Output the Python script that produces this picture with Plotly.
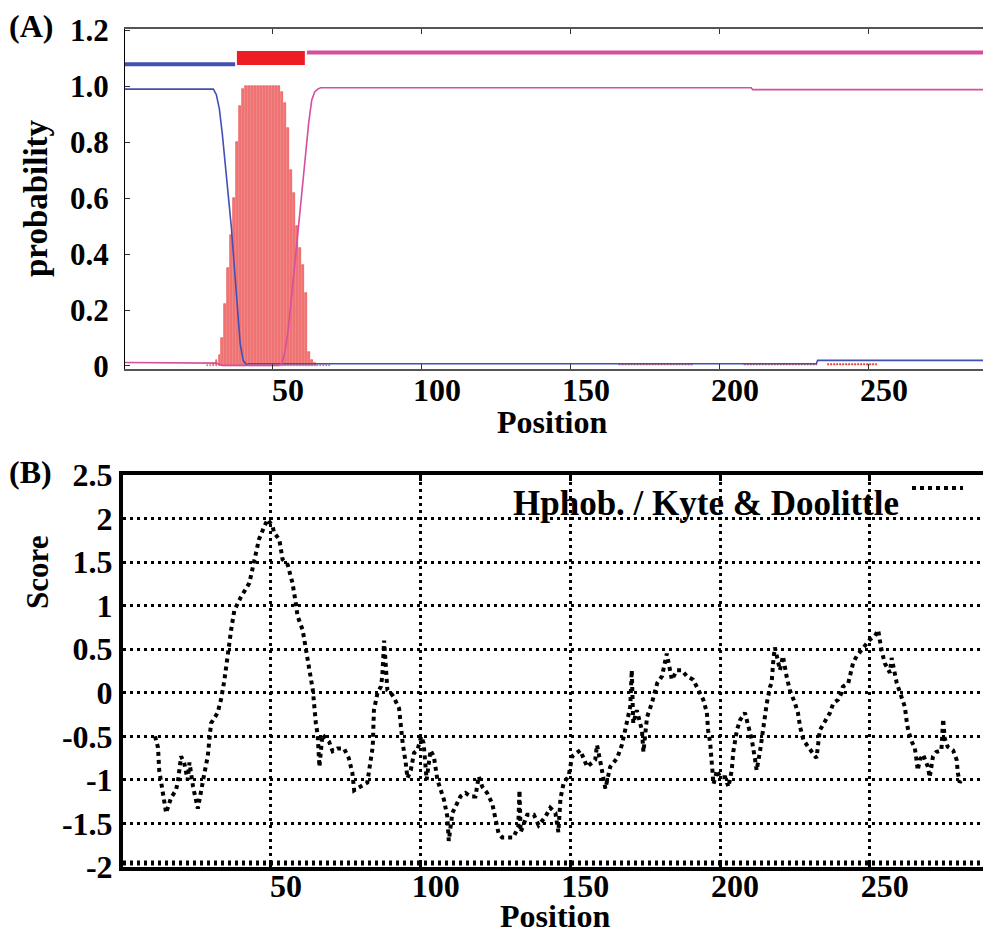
import plotly.graph_objects as go

W, H = 983, 933

# ---------------- Panel A data (TMHMM style posterior probabilities) ----------------
tm_pos = list(range(28, 70))
tm_prob = [0.005, 0.005, 0.01, 0.02, 0.04, 0.10, 0.22, 0.35, 0.47, 0.60, 0.80, 0.93, 0.99,
           1.0, 1.0, 1.0, 1.0, 1.0, 1.0, 1.0, 1.0, 1.0, 1.0, 1.0, 1.0,
           0.98, 0.94, 0.85, 0.70, 0.62, 0.50, 0.42, 0.36, 0.26, 0.05, 0.02, 0.01,
           0.005, 0.005, 0.005, 0.005, 0.005]

inside_pos = [0.34, 30, 31, 32, 33, 34, 35, 36, 37, 38, 39, 40, 41, 42, 232.4, 232.8, 288.3]
inside_prob = [0.99, 0.99, 0.97, 0.92, 0.83, 0.72, 0.61, 0.50, 0.36, 0.22, 0.08, 0.02, 0.005,
               0.008, 0.008, 0.02, 0.02]

outside_pos = [0.34, 30, 31, 32, 33, 52, 53, 54, 55, 56, 57, 58, 59, 60, 61, 62, 63, 64, 65, 66,
               210.5, 211, 288.3]
outside_prob = [0.012, 0.012, 0.01, 0.006, 0.002, 0.002, 0.008, 0.05, 0.12, 0.22, 0.33, 0.44,
                0.54, 0.64, 0.75, 0.87, 0.95, 0.98, 0.99, 0.995, 0.995, 0.988, 0.988]

# faint TM probability stretches near zero
low_start = [166, 208, 236]
low_end = [191, 232.6, 252.7]
low_val = [0.006, 0.006, 0.006]

# predicted topology bars on top
topo_kind = ["inside", "TM", "outside"]
topo_start = [0.34, 37.9, 61.4]
topo_end = [37.3, 60.7, 288.3]
topo_level = [1.079, 1.101, 1.121]

a_xticks = [50, 100, 150, 200, 250]
a_yticks = [0, 0.2, 0.4, 0.6, 0.8, 1.0, 1.2]
a_ytext = ["0", "0.2", "0.4", "0.6", "0.8", "1.0", "1.2"]

# ---------------- Panel B data (Kyte & Doolittle hydrophobicity) ----------------
kd_pos = [11.3, 12.3, 12.7, 13.9, 15, 16.7, 18.3, 19, 20, 21, 22.2, 22.8, 24, 25.6, 26.7, 27.8,
          28.9, 30, 32.2, 33.3, 34.4, 35.6, 36.7, 37.8, 40, 42.8, 44.4, 46, 47.8, 48.9, 50.6,
          51, 52.8, 53.9, 55.6, 57.2, 58.3, 58.9, 60.6, 61.7, 62.8, 64, 65, 65.6, 66.2, 67.2,
          69.4, 70.6, 72.2, 74.4, 76, 77.2, 77.8, 80, 82.2, 82.8, 84, 84.4, 85.6, 86.7, 87.2,
          87.8, 88.2, 88.9, 90, 91, 92.8, 93.3, 94, 95, 95.6, 96.7, 97.8, 98.9, 100.2, 101,
          102, 103.3, 104.4, 105.6, 106.7, 107.8, 108.9, 109.4, 110.6, 111.7, 113.3, 115,
          116.7, 118.3, 119.4, 120.6, 122.2, 123.9, 125, 126, 127.2, 131, 132.6, 133, 133.4,
          135.6, 137.8, 139.4, 141.7, 143.3, 145, 146, 146.7, 147.8, 149.4, 150.6, 153.3,
          155.6, 158.3, 158.9, 160, 161.7, 163.3, 165.6, 167.2, 168.9, 170, 170.5, 171, 172.2,
          173.9, 174.4, 175.6, 177.2, 178.3, 179, 180.6, 182.2, 183.9, 185.6, 187.2, 188.9,
          191, 192.8, 193.3, 194.4, 195.6, 196, 196.7, 197.2, 197.8, 199, 200, 201.7, 202.8,
          203.9, 204.4, 205.6, 206.7, 208.3, 209.4, 210.6, 211.7, 212.2, 213.3, 214.4, 215.6,
          216.7, 217.2, 217.8, 218.3, 220, 221, 222.2, 223.3, 225, 226, 226.7, 227.8, 229.4,
          231, 232.2, 233.3, 235, 236.7, 237.8, 239.4, 240.6, 241, 242.8, 244.4, 245.6, 247.2,
          248.9, 250, 251.7, 252.8, 253.9, 255, 256.7, 257.3, 259, 260, 261.7, 262.2, 262.8,
          264, 265, 265.6, 266, 266.7, 267.8, 269.4, 270, 271.1, 272.2, 273.9, 274.5, 275,
          276, 277.8, 279, 279.4, 280, 280.6]
kd_score = [-0.5, -0.63, -0.89, -1.15, -1.38, -1.2, -1.12, -1.0, -0.73, -0.8, -1.0, -0.8, -1.08,
            -1.33, -1.15, -0.92, -0.73, -0.35, -0.23, -0.08, 0.13, 0.49, 0.72, 0.95, 1.1, 1.26,
            1.53, 1.76, 1.91, 1.99, 1.91, 1.84, 1.76, 1.53, 1.47, 1.26, 1.03, 0.88, 0.72, 0.49,
            0.3, 0.03, -0.35, -0.48, -0.85, -0.48, -0.56, -0.67, -0.64, -0.64, -0.75, -0.92,
            -1.12, -1.08, -1.03, -0.89, -0.62, -0.2, 0.0, 0.07, 0.19, 0.6, 0.31, 0.03, 0.0,
            -0.05, -0.18, -0.35, -0.58, -0.8, -0.98, -0.89, -0.69, -0.66, -0.5, -0.58, -1.0,
            -0.66, -0.73, -1.0, -1.12, -1.23, -1.42, -1.7, -1.38, -1.31, -1.19, -1.15, -1.19,
            -1.19, -0.96, -1.08, -1.15, -1.27, -1.46, -1.61, -1.66, -1.66, -1.54, -1.12, -1.6,
            -1.4, -1.4, -1.52, -1.42, -1.32, -1.38, -1.6, -1.21, -1.03, -0.96, -0.73, -0.66,
            -0.85, -0.77, -0.6, -0.79, -1.1, -0.85, -0.75, -0.6, -0.35, -0.16, 0.26, -0.35,
            -0.2, -0.43, -0.68, -0.28, -0.12, 0.0, 0.11, 0.19, 0.45, 0.15, 0.26, 0.26, 0.19,
            0.15, 0.03, 0.0, -0.08, -0.23, -0.43, -0.58, -0.8, -1.05, -0.89, -0.97, -0.97,
            -1.08, -0.89, -0.68, -0.43, -0.31, -0.23, -0.37, -0.54, -0.77, -0.89, -0.68, -0.4,
            -0.12, 0.07, 0.11, 0.38, 0.52, 0.26, 0.42, 0.19, 0.03, -0.12, -0.23, -0.39, -0.54,
            -0.62, -0.69, -0.75, -0.43, -0.33, -0.23, -0.12, -0.08, 0.0, 0.07, 0.11, 0.34, 0.42,
            0.49, 0.57, 0.61, 0.65, 0.72, 0.49, 0.34, 0.23, 0.4, 0.11, 0.0, -0.16, -0.3, -0.43,
            -0.56, -0.63, -0.77, -0.89, -0.77, -0.71, -0.85, -0.97, -0.73, -0.68, -0.66, -0.3,
            -0.52, -0.62, -0.66, -0.77, -0.92, -1.03, -1.0]

b_xticks = [50, 100, 150, 200, 250]
b_yticks = [2.5, 2, 1.5, 1, 0.5, 0, -0.5, -1, -1.5, -2]
b_ytext = ["2.5", "2", "1.5", "1", "0.5", "0", "-0.5", "-1", "-1.5", "-2"]

legend_label = "Hphob. / Kyte & Doolittle"

# ---------------- styles ----------------
SERIF = "Liberation Serif"
BLUE = "#4150B4"
PINK = "#D4509E"
RED_BAR = "#F37A7A"
RED_EDGE = "#E64040"
RED_TOP = "#EE1D23"
DOT = "3px,4px"
KD_DOT = "4px,4px"


def bfont(size):
    return dict(family=SERIF, size=size, color="black", weight="bold")


def px(x):
    """window pixel x -> paper fraction"""
    return x / W


def py(y):
    """window pixel y -> paper fraction"""
    return 1 - y / H


fig = go.Figure()

# --- Panel A traces ---
fig.add_trace(go.Bar(x=tm_pos, y=tm_prob, width=0.56, xaxis="x", yaxis="y",
                     marker=dict(color=RED_BAR, line=dict(color=RED_EDGE, width=0.6)),
                     showlegend=False, hoverinfo="skip"))
for s, e, v in zip(low_start, low_end, low_val):
    fig.add_trace(go.Scatter(x=[s, e], y=[v, v], mode="lines", xaxis="x", yaxis="y",
                             line=dict(color=RED_EDGE, width=2, dash="2px,1px"),
                             showlegend=False, hoverinfo="skip"))
fig.add_trace(go.Scatter(x=inside_pos, y=inside_prob, mode="lines", xaxis="x", yaxis="y",
                         line=dict(color=BLUE, width=1.6), showlegend=False, hoverinfo="skip"))
fig.add_trace(go.Scatter(x=outside_pos, y=outside_prob, mode="lines", xaxis="x", yaxis="y",
                         line=dict(color=PINK, width=1.6), showlegend=False, hoverinfo="skip"))

shapes = []
for kind, s, e, lvl in zip(topo_kind, topo_start, topo_end, topo_level):
    if kind == "TM":
        shapes.append(dict(type="rect", xref="x", yref="y", x0=s, x1=e,
                           y0=lvl - 0.025, y1=lvl + 0.025,
                           fillcolor=RED_TOP, line=dict(width=0), layer="above"))
    else:
        col = BLUE if kind == "inside" else PINK
        fig.add_trace(go.Scatter(x=[s, e], y=[lvl, lvl], mode="lines", xaxis="x", yaxis="y",
                                 line=dict(color=col, width=4), showlegend=False,
                                 hoverinfo="skip"))

# --- Panel B trace ---
fig.add_trace(go.Scatter(x=kd_pos, y=kd_score, mode="lines", xaxis="x2", yaxis="y2",
                         line=dict(color="black", width=4, dash=KD_DOT),
                         showlegend=False, hoverinfo="skip"))

# comb-like dotted grid resting on the bottom frame of panel B
shapes.append(dict(type="line", xref="x2", yref="y2", x0=0.6, x1=287.8,
                   y0=-2 + 4 / 87, y1=-2 + 4 / 87,
                   line=dict(color="black", width=5, dash=DOT)))
# legend sample line
shapes.append(dict(type="line", xref="paper", yref="paper",
                   x0=px(912), x1=px(963), y0=py(488), y1=py(488),
                   line=dict(color="black", width=4, dash=KD_DOT)))

annotations = [
    dict(text="(A)", x=px(31), y=py(26), font=bfont(32)),
    dict(text="(B)", x=px(31), y=py(472), font=bfont(32)),
    dict(text="probability", x=px(36), y=py(198), textangle=-90, font=bfont(33)),
    dict(text="Position", x=px(552), y=py(422), font=bfont(32)),
    dict(text="Score", x=px(37), y=py(573), textangle=-90, font=bfont(31)),
    dict(text="Position", x=px(555), y=py(916), font=bfont(32)),
    dict(text=legend_label, x=px(706), y=py(503), font=bfont(35)),
]
for a in annotations:
    a.update(xref="paper", yref="paper", showarrow=False, xanchor="center", yanchor="middle")

fig.update_layout(
    width=W, height=H, margin=dict(l=0, r=0, t=0, b=0),
    paper_bgcolor="white", plot_bgcolor="white",
    shapes=shapes, annotations=annotations, bargap=0,
    xaxis=dict(domain=[px(125), 1], range=[0.34, 288.3], anchor="y",
               showline=True, linecolor="#555555", linewidth=1.5, mirror="ticks",
               ticks="inside", ticklen=5, tickcolor="#333333", tickwidth=1,
               tickvals=a_xticks, ticktext=[str(v) for v in a_xticks],
               tickfont=bfont(32), ticklabelshift=15, ticklabelstandoff=-8,
               showgrid=False, zeroline=False, automargin=False),
    yaxis=dict(domain=[py(369), py(29)], range=[-0.011, 1.205], anchor="x",
               showline=True, linecolor="black", linewidth=1.2,
               ticks="inside", ticklen=5, tickcolor="#333333",
               tickvals=a_yticks, ticktext=a_ytext, tickfont=bfont(31),
               ticklabelstandoff=9, showgrid=False, zeroline=False, automargin=False),
    xaxis2=dict(domain=[px(123), 1], range=[0.6, 287.8], anchor="y2",
                showline=True, linecolor="black", linewidth=4, mirror="ticks",
                ticks="inside", ticklen=6, tickwidth=3, tickcolor="black",
                tickvals=b_xticks, ticktext=[str(v) for v in b_xticks],
                tickfont=bfont(32), ticklabelshift=15, ticklabelstandoff=-12,
                showgrid=True, gridcolor="black", gridwidth=3, griddash=DOT,
                zeroline=False, automargin=False),
    yaxis2=dict(domain=[py(867), py(475)], range=[-2, 2.5], anchor="x2",
                showline=True, linecolor="black", linewidth=4,
                ticks="", tickvals=b_yticks, ticktext=b_ytext, tickfont=bfont(32),
                ticklabelstandoff=0,
                showgrid=True, gridcolor="black", gridwidth=3, griddash=DOT,
                zeroline=False, automargin=False),
)

# remove the page's default body margin so the 983x933 figure fills the window exactly
fig.write_html("out.html",
               config={"displayModeBar": False},
               post_script="document.body.style.margin='0';"
                           "document.body.style.overflow='hidden';")
